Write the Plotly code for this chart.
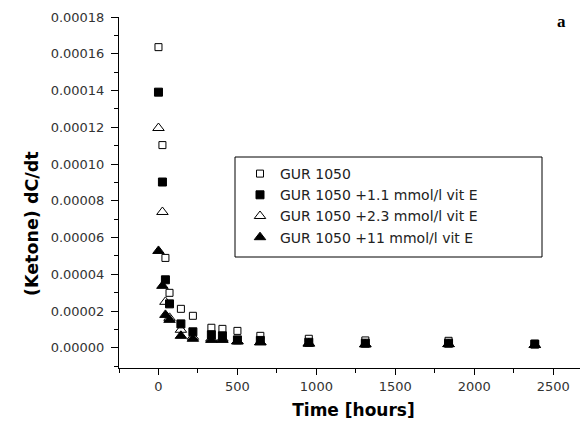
import plotly.graph_objects as go

times = [0, 25, 44, 70, 142, 218, 335, 405, 500, 645, 952, 1310, 1837, 2383]

gur1050 = [1.636e-4, 1.103e-4, 4.89e-5, 2.99e-5, 2.12e-5, 1.74e-5, 1.09e-5, 1.03e-5,
           0.92e-5, 0.65e-5, 0.49e-5, 0.40e-5, 0.38e-5, 0.22e-5]
vitE_1_1 = [1.391e-4, 9.02e-5, 3.70e-5, 2.39e-5, 1.30e-5, 0.87e-5, 0.71e-5, 0.65e-5,
            0.43e-5, 0.40e-5, 0.30e-5, 0.25e-5, 0.25e-5, 0.20e-5]
vitE_2_3 = [1.196e-4, 7.39e-5, 2.50e-5, 1.63e-5, 0.98e-5, 0.60e-5, 0.50e-5, 0.50e-5,
            0.35e-5, 0.30e-5, 0.25e-5, 0.20e-5, 0.20e-5, 0.15e-5]
vitE_11 = [5.27e-5, 3.37e-5, 1.79e-5, 1.52e-5, 0.65e-5, 0.49e-5, 0.43e-5, 0.43e-5,
           0.35e-5, 0.30e-5, 0.22e-5, 0.18e-5, 0.20e-5, 0.15e-5]

names = ["GUR 1050", "GUR 1050 +1.1 mmol/l vit E",
         "GUR 1050 +2.3 mmol/l vit E", "GUR 1050 +11 mmol/l vit E"]

fig = go.Figure()
series = [
    (gur1050, "square-open", 7),
    (vitE_1_1, "square", 8),
    (vitE_2_3, "triangle-up-open", 10),
    (vitE_11, "triangle-up", 10),
]
for (vals, sym, sz), nm in zip(series, names):
    fig.add_trace(go.Scatter(
        x=times, y=vals, mode="markers", name=nm,
        marker=dict(symbol=sym, size=sz, color="black",
                    line=dict(color="black", width=1)),
    ))

# page has an 8px body margin; compensate so the plot lands where the reference has it
OFF = 8
W, H = 588 - OFF, 439 - OFF
PL, PR, PT, PB = 119, 588, 17, 368   # plot area in page pixels
L, T = PL - OFF, PT - OFF
R, B = W - (PR - OFF), H - (PB - OFF)
pw, ph = PR - PL, PB - PT


def px(x):
    return (x - PL) / pw


def py(y):
    return (PB - y) / ph


fig.add_shape(type="rect", xref="paper", yref="paper",
              x0=px(235), x1=px(542), y0=py(257), y1=py(157),
              line=dict(color="black", width=1), fillcolor="white", layer="below")

fig.add_annotation(text="<b>a</b>", xref="paper", yref="paper",
                   x=px(561), y=py(22), xanchor="center", yanchor="middle",
                   showarrow=False,
                   font=dict(family="Liberation Serif", size=17, color="black"))

fig.add_annotation(text="<b>(Ketone) dC/dt</b>", xref="paper", yref="paper",
                   x=px(32), y=py(224), xanchor="center", yanchor="middle",
                   textangle=-90, showarrow=False,
                   font=dict(family="DejaVu Sans", size=17.5, color="black"))

tickfont = dict(family="DejaVu Sans", size=13, color="#333333")

fig.update_layout(
    width=W, height=H,
    margin=dict(l=L, r=R, t=T, b=B),
    paper_bgcolor="white", plot_bgcolor="white",
    font=dict(family="DejaVu Sans", color="#222222", size=12),
    showlegend=True,
    legend=dict(x=px(240), y=py(158), xanchor="left", yanchor="top",
                bgcolor="rgba(0,0,0,0)", borderwidth=0,
                font=dict(family="DejaVu Sans", size=14, color="#222222"),
                tracegroupgap=0),
    xaxis=dict(range=[-250, 2720], showline=True, linecolor="black", linewidth=1,
               showgrid=False, zeroline=False, ticks="outside", ticklen=6,
               tickcolor="black", tick0=0, dtick=500, automargin=False,
               tickfont=tickfont,
               minor=dict(ticks="outside", ticklen=4, dtick=250, tick0=0,
                          tickcolor="black", showgrid=False),
               title=dict(text="<b>Time [hours]</b>",
                          font=dict(family="DejaVu Sans", size=17, color="black"),
                          standoff=11)),
    yaxis=dict(range=[-0.000011, 0.00018], showline=True, linecolor="black",
               linewidth=1, showgrid=False, zeroline=False, ticks="outside",
               ticklen=7, tickcolor="black", tick0=0, dtick=0.00002,
               tickformat=".5f", automargin=False, tickfont=tickfont,
               ticklabelstandoff=4,
               minor=dict(ticks="outside", ticklen=4, dtick=0.00001, tick0=0,
                          tickcolor="black", showgrid=False)),
)

fig.write_html("out.html")
